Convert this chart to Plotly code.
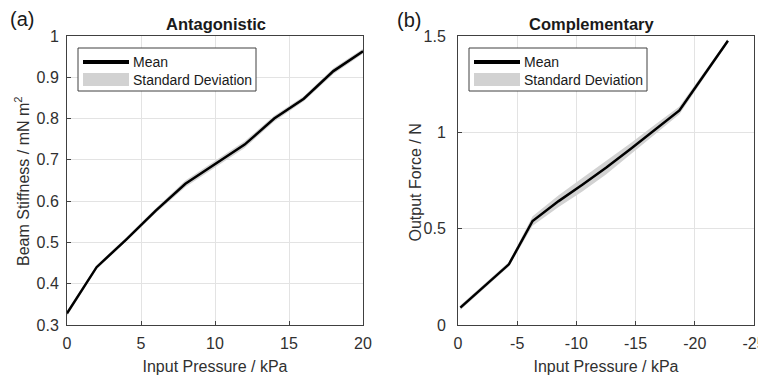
import plotly.graph_objects as go

# Panel (a) Antagonistic
a_pressure = [0, 2, 4, 6, 8, 10, 12, 14, 16, 18, 20]
a_mean = [0.328, 0.44, 0.507, 0.577, 0.642, 0.69, 0.737, 0.80, 0.848, 0.915, 0.963]
a_std = [0.006, 0.005, 0.005, 0.006, 0.008, 0.008, 0.008, 0.007, 0.006, 0.007, 0.006]

# Panel (b) Complementary
b_pressure = [-0.2, -4.3, -6.3, -8.5, -10.5, -12.5, -14.6, -16.6, -18.7, -22.8]
b_mean = [0.09, 0.315, 0.54, 0.643, 0.728, 0.816, 0.915, 1.013, 1.114, 1.475]
b_std = [0.012, 0.012, 0.025, 0.03, 0.035, 0.035, 0.03, 0.025, 0.02, 0.01]

a_xticks = [0, 5, 10, 15, 20]
a_yticks = [0.3, 0.4, 0.5, 0.6, 0.7, 0.8, 0.9, 1.0]
a_yticklabels = ["0.3", "0.4", "0.5", "0.6", "0.7", "0.8", "0.9", "1"]
b_xticks = [0, -5, -10, -15, -20, -25]
b_xticklabels = ["0", "-5", "-10", "-15", "-20", "-25"]
b_yticks = [0, 0.5, 1.0, 1.5]
b_yticklabels = ["0", "0.5", "1", "1.5"]

FONT = "Liberation Sans, Arial, sans-serif"
TXT = "#303030"
AX = "#404040"
GRID = "#e3e3e3"
BAND = "#d2d2d2"

# the page body adds an 8px offset, so the figure is drawn 8px smaller
OFF = 8
W, H = 766 - OFF, 377 - OFF
ML, MR, MT, MB = 67 - OFF, 12, 36 - OFF, 52
PW, PH = W - ML - MR, H - MT - MB


def px(x):
    return (x - 67) / PW


def py(y):
    return (325 - y) / PH


fig = go.Figure()


def add_panel(xs, mean, std, xa, ya):
    upper = [m + s for m, s in zip(mean, std)]
    lower = [m - s for m, s in zip(mean, std)]
    fig.add_trace(go.Scatter(
        x=xs + xs[::-1], y=upper + lower[::-1], fill="toself",
        fillcolor=BAND, line=dict(width=0, color=BAND), mode="lines",
        name="Standard Deviation", xaxis=xa, yaxis=ya, showlegend=False,
        hoverinfo="skip"))
    fig.add_trace(go.Scatter(
        x=xs, y=mean, mode="lines", line=dict(color="black", width=2.5),
        name="Mean", xaxis=xa, yaxis=ya, showlegend=False))


add_panel(a_pressure, a_mean, a_std, "x", "y")
add_panel(b_pressure, b_mean, b_std, "x2", "y2")

common_axis = dict(showline=True, mirror=True, linecolor=AX, linewidth=1,
                   showgrid=True, gridcolor=GRID, gridwidth=1,
                   ticks="inside", ticklen=4, tickcolor=AX, zeroline=False,
                   automargin=False,
                   tickfont=dict(family=FONT, size=16, color=TXT))
title_font = dict(family=FONT, size=16, color=TXT)

fig.update_layout(
    width=W, height=H,
    margin=dict(l=ML, r=MR, t=MT, b=MB),
    paper_bgcolor="white", plot_bgcolor="white",
    font=dict(family=FONT, color=TXT),
    showlegend=False,
    xaxis=dict(domain=[0, px(363)], range=[0, 20], tickvals=a_xticks,
               ticklabelstandoff=4,
               title=dict(text="Input Pressure / kPa", font=title_font, standoff=9),
               **common_axis),
    yaxis=dict(domain=[0, 1], range=[0.3, 1.0], tickvals=a_yticks,
               ticktext=a_yticklabels, ticklabelstandoff=4, **common_axis),
    xaxis2=dict(domain=[px(458), 1], range=[0, -25], anchor="y2",
                tickvals=b_xticks, ticktext=b_xticklabels, ticklabelstandoff=4,
                title=dict(text="Input Pressure / kPa", font=title_font, standoff=9),
                **common_axis),
    yaxis2=dict(domain=[0, 1], range=[0, 1.5], anchor="x2", tickvals=b_yticks,
                ticktext=b_yticklabels, ticklabelstandoff=8, **common_axis),
)

# y-axis titles
fig.add_annotation(xref="paper", yref="paper", showarrow=False, textangle=-90,
                   x=px(22), y=py(181), xanchor="center", yanchor="middle",
                   text="Beam Stiffness / mN m<sup>2</sup>", font=title_font)
fig.add_annotation(xref="paper", yref="paper", showarrow=False, textangle=-90,
                   x=px(414.5), y=py(183), xanchor="center", yanchor="middle",
                   text="Output Force / N", font=title_font)

annotations = [
    dict(text="<b>Antagonistic</b>", x=px(216), y=py(24), xanchor="center"),
    dict(text="<b>Complementary</b>", x=px(592), y=py(24), xanchor="center"),
    dict(text="(a)", x=px(22), y=py(19), xanchor="center"),
    dict(text="(b)", x=px(409), y=py(20), xanchor="center"),
]
for a in annotations:
    big = a["text"].startswith("(")
    fig.add_annotation(xref="paper", yref="paper", showarrow=False,
                       yanchor="middle",
                       font=dict(family=FONT, size=20 if big else 16.5,
                                 color="#1a1a1a"), **a)

# legend boxes drawn in paper coordinates
for x0 in (78, 469):
    fig.add_shape(type="rect", xref="paper", yref="paper",
                  x0=px(x0), x1=px(x0 + 178), y0=py(91), y1=py(48),
                  line=dict(color=AX, width=1), fillcolor="white", layer="above")
    fig.add_shape(type="line", xref="paper", yref="paper",
                  x0=px(x0 + 5), x1=px(x0 + 51), y0=py(62), y1=py(62),
                  line=dict(color="black", width=4), layer="above")
    fig.add_shape(type="rect", xref="paper", yref="paper",
                  x0=px(x0 + 5), x1=px(x0 + 51), y0=py(86), y1=py(73),
                  line=dict(width=0), fillcolor=BAND, layer="above")
    fig.add_annotation(xref="paper", yref="paper", showarrow=False,
                       x=px(x0 + 53), y=py(62), xanchor="left", yanchor="middle",
                       text="Mean",
                       font=dict(family=FONT, size=14, color="#1a1a1a"))
    fig.add_annotation(xref="paper", yref="paper", showarrow=False,
                       x=px(x0 + 53), y=py(80), xanchor="left", yanchor="middle",
                       text="Standard Deviation",
                       font=dict(family=FONT, size=14, color="#1a1a1a"))

fig.write_html("out.html")
